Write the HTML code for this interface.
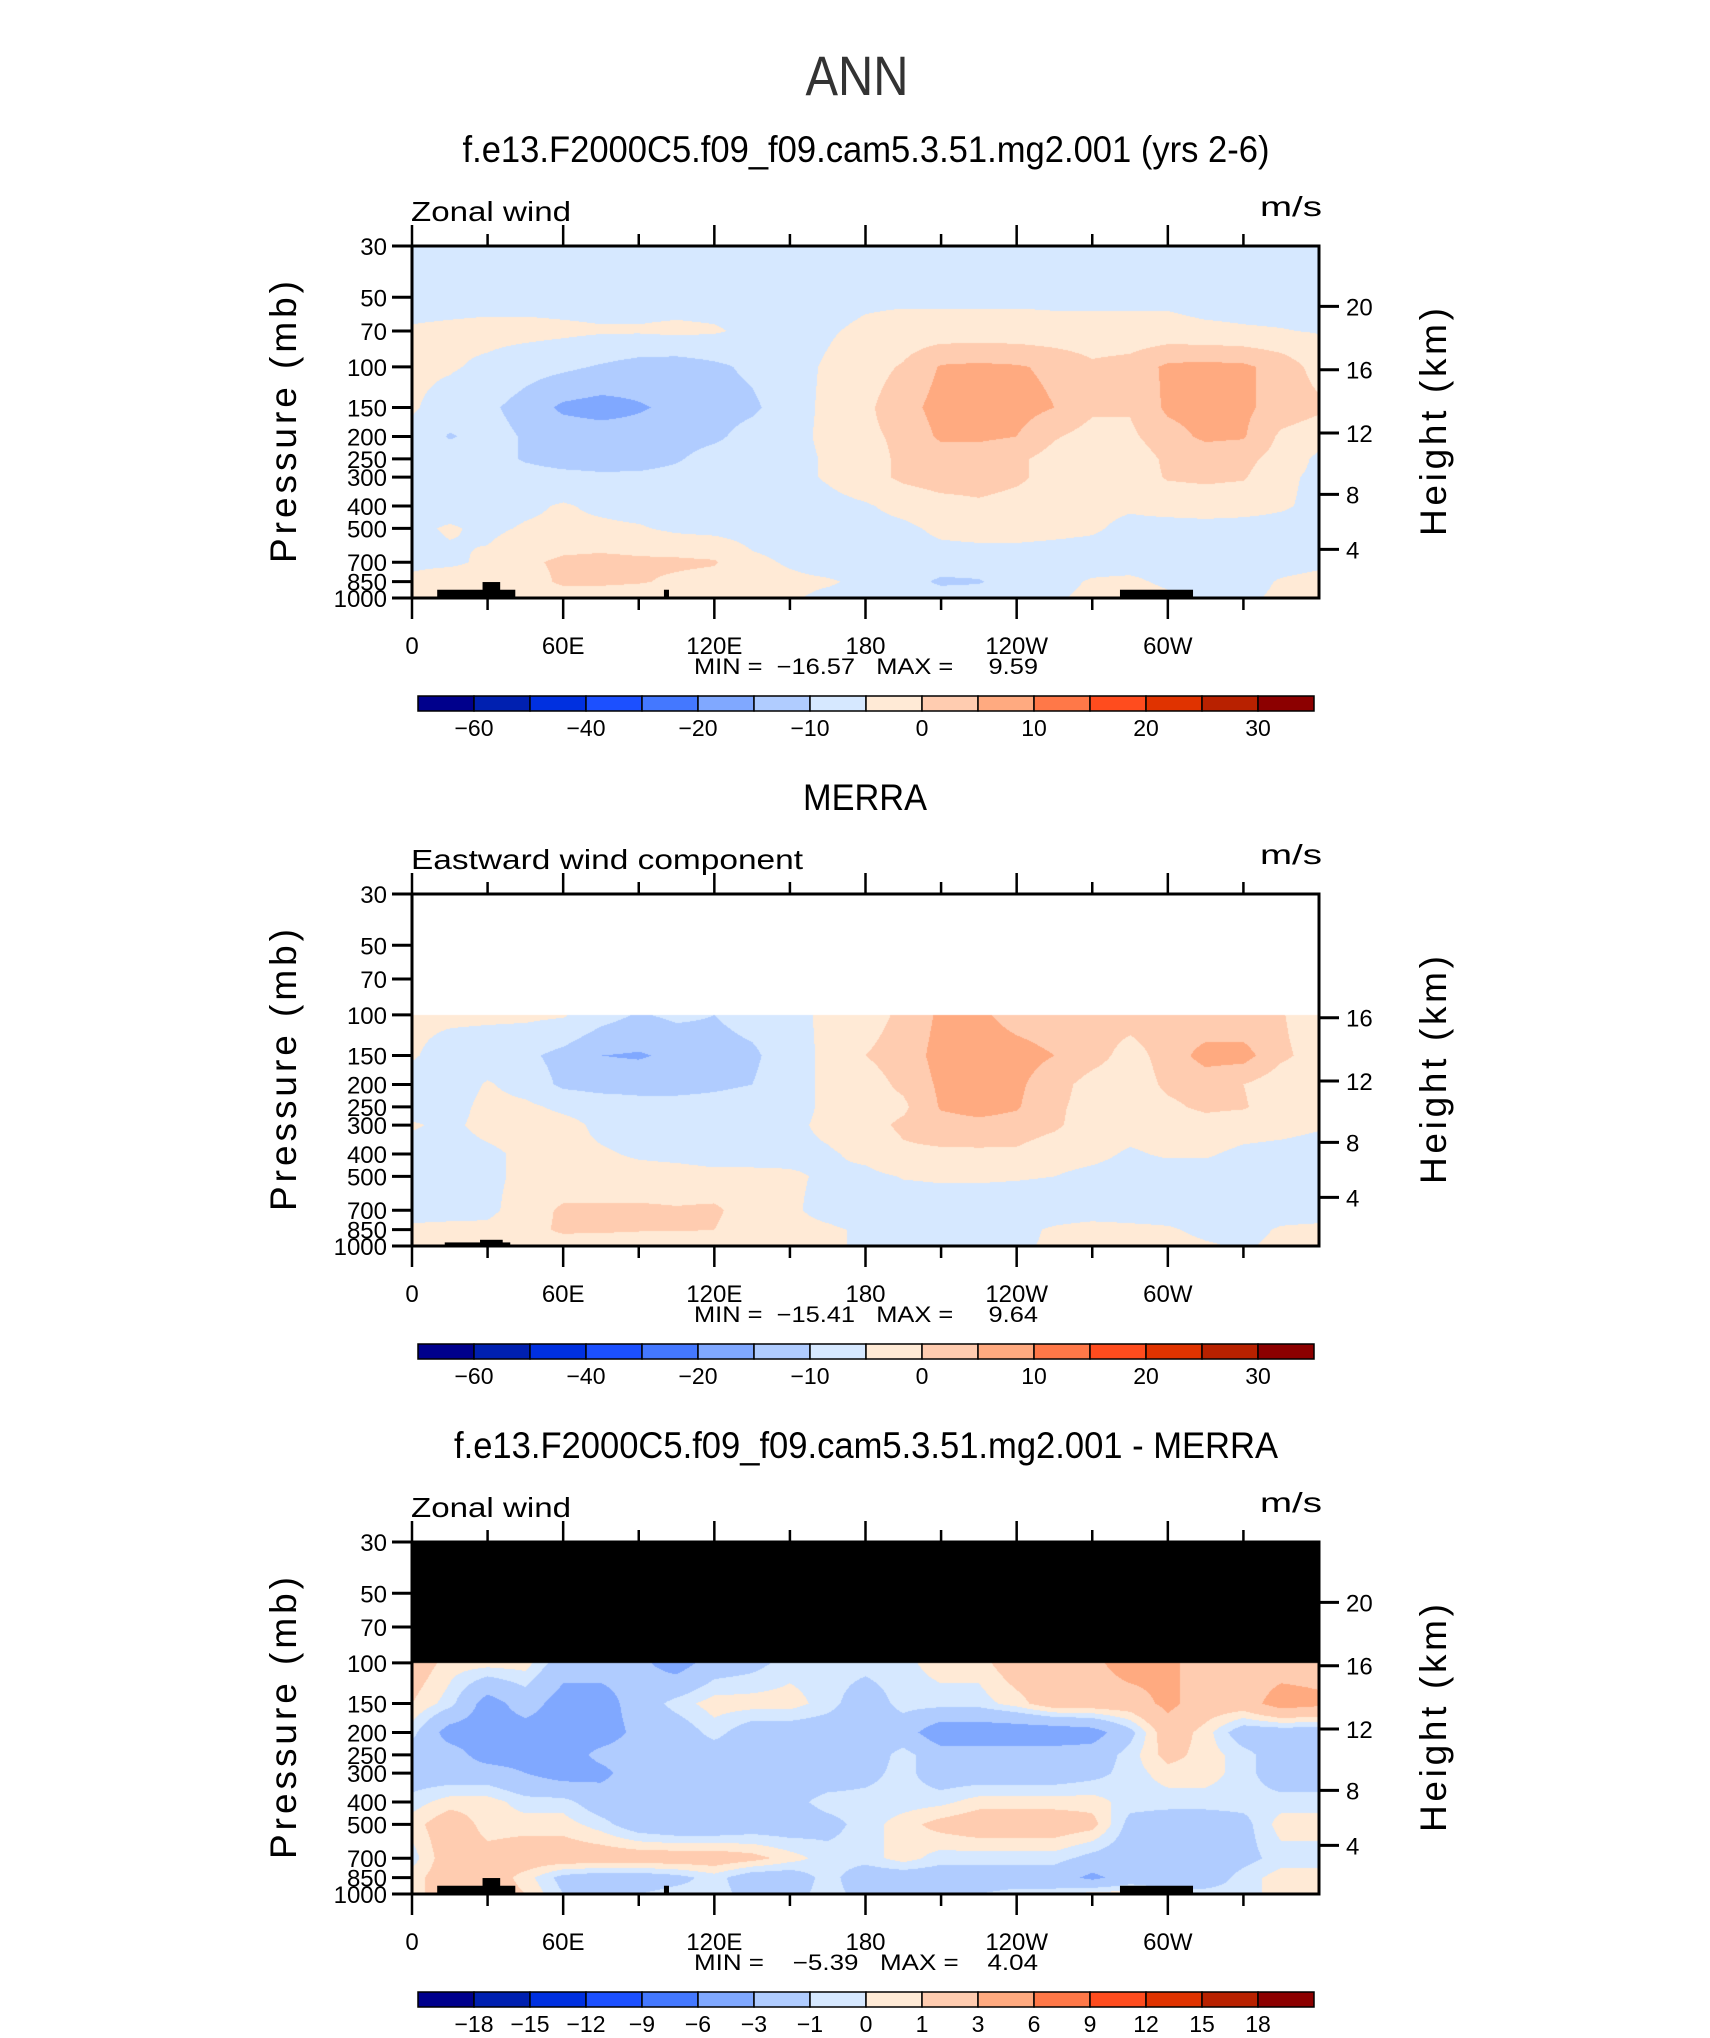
<!DOCTYPE html>
<html><head><meta charset="utf-8"><style>
body{margin:0;background:#fff;}
#wrap{position:relative;width:1710px;height:2038px;overflow:hidden;background:#fff;}
canvas{position:absolute;}
svg{position:absolute;left:0;top:0;}
text{font-family:"Liberation Sans",sans-serif;fill:#000;}
</style></head><body>
<div id="wrap">
<canvas id="c1"></canvas>
<canvas id="c2"></canvas>
<canvas id="c3"></canvas>
<svg id="s" width="1710" height="2038"></svg>
</div>
<script>
// ---------- data ----------
const lons=[0,15,30,45,60,75,90,105,120,135,150,165,180,195,210,225,240,255,270,285,300,315,330,345,360];
const modelLevels=[30,50,70,100,150,200,250,300,400,500,700,850,1000];
const merraLevels=[100,150,200,250,300,400,500,700,850,1000];
const modelWind=[
[-7,-7,-7,-7,-7,-7,-7,-7,-7,-7,-7,-7,-7,-7,-7,-7,-7,-7,-7,-7,-7,-7,-7,-7,-7],
[-7,-7,-7,-7,-7,-7,-7,-7,-7,-7,-7,-7,-6,-6,-6,-6,-6,-6,-6,-6,-6,-7,-7,-7,-7],
[-4.5,-4,-3.5,-3.5,-4,-4.5,-4.5,-4,-4.5,-6,-6.5,-5.5,-4,-3,-3,-3,-3,-3.5,-3.5,-3.5,-3.5,-4,-4.5,-4.8,-5.3],
[-4,-4.5,-6,-8,-9,-10.5,-12,-12.5,-11,-9,-6.5,-4.5,-2,0.5,5.5,6,5.5,4,1,2,6,6.5,6,3,-2],
[-4.5,-7,-9,-12,-16,-17,-15.5,-14,-12,-11,-7,-4,-1,3,7,8,7,5,1,0.5,6,7,6,3,1],
[-6,-10.5,-8,-10.5,-12,-12.5,-13,-12,-11,-8,-6.5,-4,-1,1,6,6,5,0.5,-2,-1,3,6,5.5,-1,-3],
[-7,-7,-8,-10.5,-12,-12.5,-12,-10.5,-8,-7,-6.5,-4.5,-2,1,2,2,1,-2,-3,-3,1,2,1.5,-2,-6],
[-7,-7,-7.5,-8,-8.5,-9,-9,-8.5,-8,-7,-6.5,-4.5,-2,1,2.5,2.5,1,-2,-3,-3,0.5,1,0.5,-4,-6],
[-6.5,-7,-7,-6,-4.5,-6,-7,-7.5,-7.5,-7.5,-7,-6.5,-5.5,-3.5,-2,-1,-2,-2.5,-4,-4.5,-3.5,-3,-3.5,-4.5,-6],
[-6,-4.5,-6,-4.5,-4,-4,-4.5,-6,-6.5,-7,-7,-7,-6.5,-6,-4,-3.5,-3.5,-4,-4.5,-6,-6.5,-6.5,-6.5,-6.5,-6],
[-6,-6,-4,-1,1,1.5,1,1,0.5,-4,-5.5,-7,-7,-7,-7,-7,-7,-7,-7,-7,-7,-7,-7,-7,-6],
[-4,-2,-3,-2.5,1,1,0.5,-1,-2,-3,-4,-4.5,-6,-7.5,-11,-10.5,-7,-6.5,-4.5,-4,-6,-6.5,-7,-4.5,-3.5],
[-3,0,0,-2,-3,-3,-3.5,-4,-4,-4.5,-4.5,-6,-6.5,-7,-7,-7,-6,-5.5,-4,-2,-4,-6,-6,-4,-3]
];
const merraWind=[
[-4,-4,-4,-4,-4.5,-8,-10.5,-9,-10,-8,-6.5,-4,-2,1,6,6,3,2,2,2,2.5,1,1,0.5,-4],
[-4.5,-7,-8,-9,-11.5,-15,-15.5,-14,-12,-11,-7,-4,0,2,7,8,7,5,2,-2,2,7,7,1,-2],
[-7,-8,-4.5,-7,-11,-12,-12,-12,-11,-10,-7,-4,-2,1,6,7,6,2,-2,-3,1,2,0,-3,-4],
[-7,-7,-3.5,-4,-6,-7,-8,-8,-8,-7.5,-7,-4,-2,-1,5.5,7,5.5,1,-2,-3,-1,1,0.5,-3,-4],
[-4.5,-6,-3.5,-3,-3.5,-6,-7,-7,-7,-7,-6,-4,-2,1,3,3.5,3,1,-3,-3.5,-3,-2,-3,-3.5,-4.5],
[-7,-7,-6,-4,-4,-4.5,-5.5,-6,-6.5,-6.5,-6,-5.5,-4,-1,-1,-1,-1,-3.5,-4,-5.5,-4.5,-4.5,-6,-6.5,-7],
[-7,-7,-6,-4,-4,-3.5,-3.5,-3.5,-4,-4,-4.5,-5.5,-6,-4.8,-4.5,-4.5,-4.7,-5,-6,-6.5,-7,-7,-7,-7,-7],
[-7,-7,-6,-3,1,1,1,0.5,1,-3,-4.5,-6,-7,-7,-7,-7,-7,-7,-7,-7,-7,-7,-7,-7,-7],
[-4,-3.5,-4,-2,1,1,0.5,0.5,0,-3,-4,-4.5,-5.5,-6.5,-7,-7,-6,-4.5,-3.5,-4,-4.5,-6,-6.5,-4.5,-4],
[-3,-3,-3.5,-3,-3,-4,-4,-4,-4,-3.5,-4,-4.5,-5.5,-6,-6,-6,-5.5,-4.5,-4,-3,-3.5,-4.5,-5.5,-4,-3]
];
const diffWind=[
[2,0.5,0.5,0.5,-2,-2,-2.5,-4,-2,-1.5,-0.5,-0.5,-0.5,-0.3,0.5,0.5,2,2,2.5,4,3.5,2,2,2,2],
[1,-0.5,-4,-2,-4,-4,-2,-0.5,0.5,0.5,0.5,-0.5,-2,-0.5,-0.5,-0.5,0.5,2,2,2,3.5,2,2,4,3.5],
[-0.5,-4,-4,-4,-4,-4,-2.5,-2,-0.5,-2,-2,-2,-2,-2,-4.5,-4.5,-4.5,-4.5,-4,-1.5,2,0.5,-2,-2,-2],
[-2,-2,-4,-4,-4,-2.5,-2,-2,-2,-2,-2,-2,-2,-0.5,-2,-2,-2,-2,-2,-0.5,1.5,0.5,-0.5,-2,-2],
[-2,-2,-2,-3,-4,-3.5,-2,-2,-2,-2,-2,-2,-1.5,-0.5,-2,-2,-2,-2,-1.5,-0.5,0.5,0.5,-0.5,-2,-2],
[-0.5,0.5,0.5,-0.5,-0.5,-2,-2,-2,-2,-2,-1.5,-0.5,-0.5,-0.5,-0.3,0.5,0.5,0.5,0.5,-0.5,-0.5,-0.5,-0.5,-0.5,-0.5],
[0.5,2,0.5,0.5,0.5,-0.5,-2,-2.5,-2.5,-2,-2,-1.5,-0.5,0.5,1.5,2,2,2,1.5,-1.5,-2,-2,-1.5,0.5,0.5],
[-0.5,2,1.5,2,2,2,2,2,2,1.5,0.5,-0.5,-0.5,0.5,-0.5,-0.5,-0.5,-0.5,-1.5,-2,-2,-2,-1.5,-0.5,-0.5],
[0.5,2,2,0.5,-1.5,-2,-2,-1.5,-0.5,-2,-2,-0.5,-2,-2,-2,-2,-2,-2,-3.5,-2,-2,-2,-0.5,0.5,0.5],
[0.5,2,2,1,-1,-1.5,-1,-0.5,-0.5,-1.5,-1.5,-0.5,-1.5,-1.5,-1.5,-1,-0.5,-0.5,0.5,0.5,-0.5,-0.5,-0.5,0.5,0.5]
];
const levelsWind=[-60,-50,-40,-30,-20,-15,-10,-5,0,5,10,15,20,25,30];
const levelsDiff=[-18,-15,-12,-9,-6,-3,-1,0,1,3,6,9,12,15,18];
const labelsWind=["−60","","−40","","−20","","−10","","0","","10","","20","","30"];
const labelsDiff=["−18","−15","−12","−9","−6","−3","−1","0","1","3","6","9","12","15","18"];
const fillColors=["#00008C","#0020B0","#0030E0","#1C50FF","#4478FF","#80A8FF","#B0CCFF","#D6E8FF","#FFEAD6","#FFCCB0","#FFAA80","#FF7848","#FF4C1E","#E03300","#B82100","#8C0000"];
const pressureTicks=[30,50,70,100,150,200,250,300,400,500,700,850,1000];
const heightTicks=[4,8,12,16,20];
const lonTickLabels=["0","60E","120E","180","120W","60W"];
const topoModel=[[10,41,921],[28,35,853],[100,102,921],[281,310,921]];
const topoMerra=[[13,39,965],[27,36,940],[266,268,990]];

// ---------- layout ----------
const X0=412,X1=1319,PW=X1-X0,PH=352;
const NS="http://www.w3.org/2000/svg";
const svg=document.getElementById('s');
function xOf(lon){return X0+lon/360*PW;}
function yOf(p,T){return T+Math.log(p/30)/Math.log(1000/30)*PH;}
function stdPressure(km){const z=km*1000;if(z<=11000)return 1013.25*Math.pow(1-2.25577e-5*z,5.2559);return 226.32*Math.exp(-(z-11000)/6341.6);}
function el(tag,attrs,parent){const e=document.createElementNS(NS,tag);for(const k in attrs)e.setAttribute(k,attrs[k]);(parent||svg).appendChild(e);return e;}
function txt(s,x,y,size,anchor,parent,extra){const t=el('text',Object.assign({x:x,y:y,'font-size':size,'text-anchor':anchor||'start'},extra||{}),parent);t.textContent=s;return t;}
function hexRGB(h){return [parseInt(h.substr(1,2),16),parseInt(h.substr(3,2),16),parseInt(h.substr(5,2),16)];}
const rgb=fillColors.map(hexRGB);
function classOf(v,levels){let k=0;while(k<levels.length&&v>=levels[k])k++;return k;}

function valueAt(grid,plev,lon,p){
  const fi=lon/15;let i=Math.min(Math.floor(fi),lons.length-2);const fx=fi-i;
  const lp=Math.log(p);let j=0;
  while(j<plev.length-2&&Math.log(plev[j+1])<lp)j++;
  let fy=(lp-Math.log(plev[j]))/(Math.log(plev[j+1])-Math.log(plev[j]));
  fy=Math.max(0,Math.min(1,fy));
  const a=grid[j][i]*(1-fx)+grid[j][i+1]*fx;
  const b=grid[j+1][i]*(1-fx)+grid[j+1][i+1]*fx;
  return a*(1-fy)+b*fy;
}

function drawField(cid,T,grid,plev,levels,aboveColor){
  const c=document.getElementById(cid);
  c.width=PW;c.height=PH;c.style.left=X0+'px';c.style.top=T+'px';
  const ctx=c.getContext('2d');const img=ctx.createImageData(PW,PH);
  const pTop=plev[0];
  for(let y=0;y<PH;y++){
    const p=30*Math.exp((y+0.5)/PH*Math.log(1000/30));
    for(let x=0;x<PW;x++){
      let col;
      if(p<pTop){col=aboveColor;}
      else{const v=valueAt(grid,plev,(x+0.5)/PW*360,p);col=rgb[classOf(v,levels)];}
      const o=(y*PW+x)*4;img.data[o]=col[0];img.data[o+1]=col[1];img.data[o+2]=col[2];img.data[o+3]=255;
    }
  }
  ctx.putImageData(img,0,0);
}

function drawPanel(n,T,opts){
  const g=el('g',{});
  
  
  const B=T+PH;
  (opts.topo||[]).forEach(t=>{
    const r=el('rect',{x:xOf(t[0]),y:yOf(t[2],T),width:xOf(t[1])-xOf(t[0]),height:B-yOf(t[2],T),fill:'#000'},g);
    
    
  });
  const fr=el('rect',{x:X0,y:T,width:PW,height:PH,fill:'none',stroke:'#000','stroke-width':3},g);
  
  
  for(let lon=0;lon<=330;lon+=30){
    const major=lon%60===0;const x=xOf(lon);const L=major?21:12;
    el('line',{x1:x,y1:T,x2:x,y2:T-L,stroke:'#000','stroke-width':2.5},g);
    el('line',{x1:x,y1:B,x2:x,y2:B+L,stroke:'#000','stroke-width':2.5},g);
  }
  lonTickLabels.forEach((s,i)=>{
    const t=txt(s,xOf(i*60),B+56,24,'middle',g);
    
    
  });
  pressureTicks.forEach(p=>{
    const y=yOf(p,T);
    el('line',{x1:X0,y1:y,x2:X0-20,y2:y,stroke:'#000','stroke-width':3},g);
    const t=txt(String(p),X0-25,y+9,24,'end',g);
    
    
  });
  heightTicks.forEach(h=>{
    const p=stdPressure(h);if(p<opts.hTop)return;
    const y=yOf(p,T);
    el('line',{x1:X1,y1:y,x2:X1+20,y2:y,stroke:'#000','stroke-width':3},g);
    const t=txt(String(h),X1+27,y+9,24,'start',g);
    
    
  });
  const ya=txt('Pressure  (mb)',0,0,37,'middle',g,{transform:'translate(296,'+(T+176)+') rotate(-90)',textLength:282,lengthAdjust:'spacing'});
  
  
  const yb=txt('Height  (km)',0,0,37,'middle',g,{transform:'translate(1446,'+(T+176)+') rotate(-90)',textLength:228,lengthAdjust:'spacing'});
  
  
  const ls=txt(opts.left,411,T-25,28,'start',g,{textLength:opts.leftW,lengthAdjust:'spacingAndGlyphs'});
  
  
  const us=txt('m/s',1322,T-30,28,'end',g,{textLength:62,lengthAdjust:'spacingAndGlyphs'});
  
  
  const tt=txt(opts.title,opts.titleX,T-84,37,'middle',g,{textLength:opts.titleW,lengthAdjust:'spacingAndGlyphs'});
  
  
  const mm=txt(opts.minmax,866,B+76,22,'middle',g,{'xml:space':'preserve',style:'white-space:pre',textLength:344,lengthAdjust:'spacingAndGlyphs'});
  
  
  const cb=el('g',{},g);
  
  
  const CX0=418,CX1=1314,CY=B+98,CH=15,bw=(CX1-CX0)/16;
  fillColors.forEach((c,i)=>{
    const r=el('rect',{x:CX0+i*bw,y:CY,width:bw,height:CH,fill:c,stroke:'#000','stroke-width':1.5},cb);
    
    
  });
  opts.cbLabels.forEach((s,i)=>{
    if(!s)return;
    const t=txt(s,CX0+(i+1)*bw,CY+40,23,'middle',cb);
    
    
  });
}

drawField('c1',246,modelWind,modelLevels,levelsWind,[255,255,255]);
drawField('c2',894,merraWind,merraLevels,levelsWind,[255,255,255]);
drawField('c3',1542,diffWind,merraLevels,levelsDiff,[0,0,0]);

const main=txt('ANN',857,95,56,'middle',svg,{textLength:103,lengthAdjust:'spacingAndGlyphs',style:'fill:#333'});



drawPanel('model',246,{title:'f.e13.F2000C5.f09_f09.cam5.3.51.mg2.001 (yrs 2-6)',titleX:866,titleW:807,left:'Zonal wind',leftW:160,minmax:'MIN =  −16.57   MAX =     9.59',cbLabels:labelsWind,topo:topoModel,hTop:30});
drawPanel('merra',894,{title:'MERRA',titleX:865,titleW:124,left:'Eastward wind component',leftW:392,minmax:'MIN =  −15.41   MAX =     9.64',cbLabels:labelsWind,topo:topoMerra,hTop:100});
drawPanel('diff',1542,{title:'f.e13.F2000C5.f09_f09.cam5.3.51.mg2.001 - MERRA',titleX:866,titleW:824,left:'Zonal wind',leftW:160,minmax:'MIN =    −5.39   MAX =    4.04',cbLabels:labelsDiff,topo:topoModel,hTop:30});
</script>
</body></html>
